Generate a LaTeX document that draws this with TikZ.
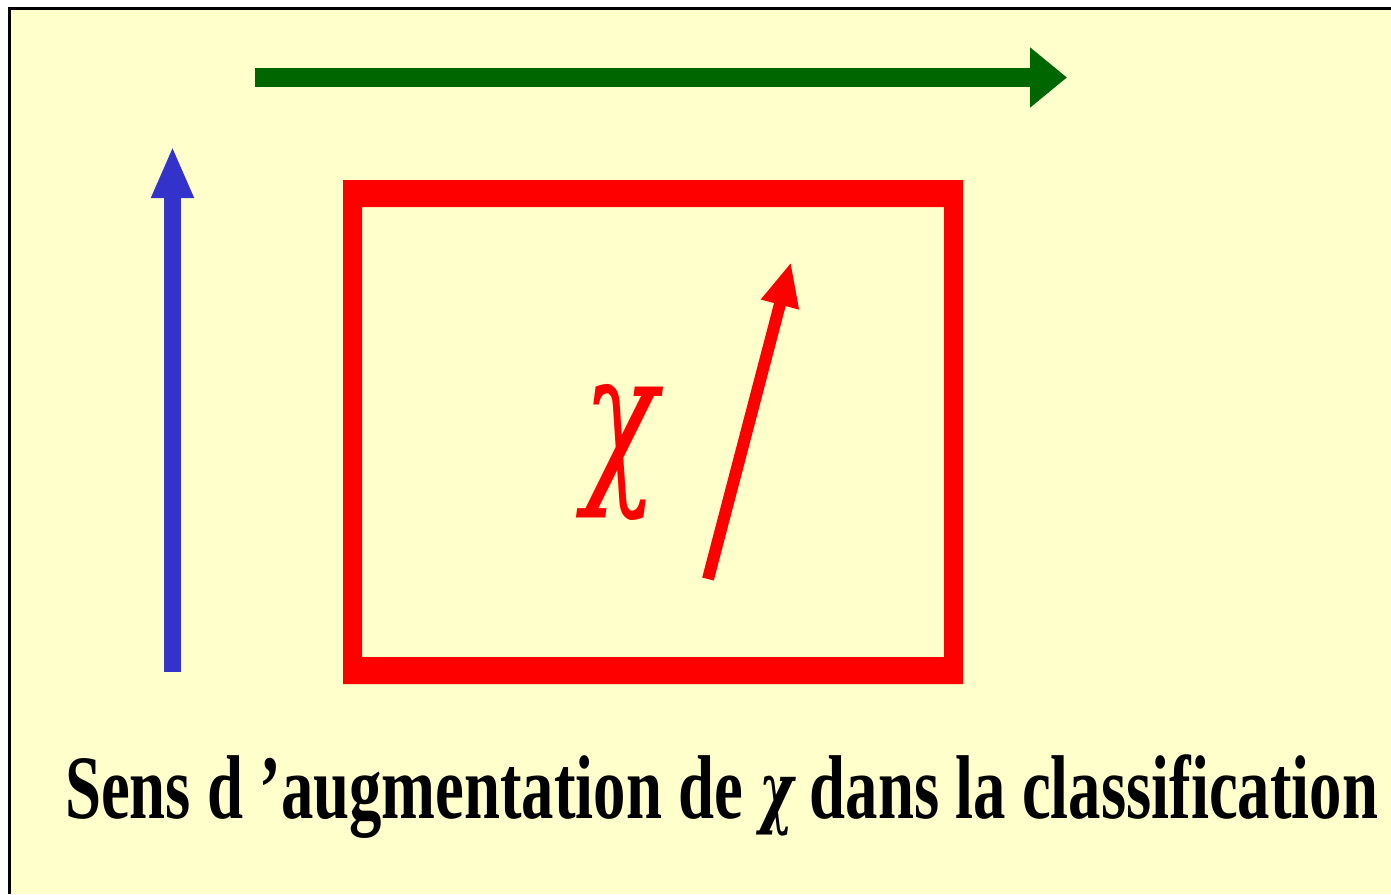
\documentclass[tikz,border=0pt]{standalone}
\usepackage{fontspec}
\setmainfont{Liberation Serif}
\newfontfamily\chifont{DejaVu Serif}
\usetikzlibrary{arrows.meta}
\definecolor{bgyellow}{HTML}{FFFFCC}
\definecolor{arrowgreen}{HTML}{006600}
\definecolor{arrowblue}{HTML}{3333CC}
\definecolor{boxred}{HTML}{FF0000}
\tikzset{
  bluearrow/.style={draw=arrowblue, line width=17pt, -{Triangle[length=52pt,width=39pt]}},
  greenarrow/.style={draw=arrowgreen, line width=19pt, -{Triangle[length=37pt,width=58pt]}},
  redarrow/.style={draw=boxred, line width=12pt, -{Triangle[length=44pt,width=36pt]}},
}
\begin{document}
\begin{tikzpicture}[x=1pt,y=-1pt]
\useasboundingbox (0,0) rectangle (1391,894);
\fill[white] (0,0) rectangle (1391,894);
\fill[bgyellow] (10,10) rectangle (1391,894);
\draw[line width=3pt] (9.5,894) -- (9.5,8) -- (1391,8);
% green arrow
\coordinate (g0) at (255,77.5);
\coordinate (g1) at (1067,77.5);
\draw[greenarrow] (g0) -- (g1);
% blue arrow
\coordinate (b0) at (172.5,672);
\coordinate (b1) at (172.5,146);
\draw[bluearrow] (b0) -- (b1);
% red frame
\fill[boxred, even odd rule] (343,180) rectangle (963,684) (362,207) rectangle (944,657);
% chi
\node[inner sep=0pt, text=boxred] (chi) at (621,452) {\resizebox*{74pt}{136pt}{\chifont\itshape χ}};
% red arrow
\coordinate (r0) at (708,579);
\coordinate (r1) at (791,262);
\draw[redarrow] (r0) -- (r1);
% caption
\node[anchor=base west, inner sep=0pt] (caption) at (65,818) {\resizebox{1313pt}{\height}{\fontsize{90.6pt}{100pt}\selectfont\bfseries Sens d ’augmentation de \resizebox*{48pt}{60pt}{\chifont\itshape χ} dans la classification}};
\end{tikzpicture}
\end{document}
